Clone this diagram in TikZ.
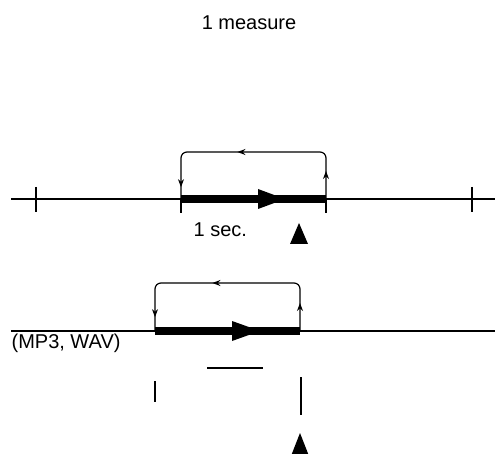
\documentclass[tikz,border=0pt]{standalone}
\usepackage{fontspec}
\setmainfont{Liberation Sans}
\usetikzlibrary{arrows.meta, decorations.markings}

\begin{document}
\begin{tikzpicture}[x=1pt,y=-1pt,line width=1.2pt,
    lbl/.style={inner sep=0pt,font=\fontsize{20}{24}\selectfont},
    bar/.style={line width=8pt},
    loopback/.style={rounded corners=6pt,postaction={decorate},
      decoration={markings,
        mark=at position 28pt with {\arrow{Stealth[length=8pt,width=6pt]}},
        mark=at position 133pt with {\arrow{Stealth[length=8pt,width=6pt]}},
        mark=at position 222pt with {\arrow{Stealth[length=8pt,width=6pt]}}}}]
  \useasboundingbox (0,0) rectangle (495,454);

  \node[lbl,anchor=base] (measure) at (249,30) {1 measure};

  % first track
  \coordinate (aw) at (11,199);
  \coordinate (ae) at (495,199);
  \coordinate (as) at (181,199);
  \coordinate (at) at (326,199);
  \draw (aw) -- (ae);
  \draw (36,187) -- (36,212) (472,187) -- (472,212);
  \draw[bar] (as) -- (at);
  \fill (258,189) -- (285,199) -- (258,209) -- cycle;
  \draw (as) -- ++(0,14) (at) -- ++(0,14);
  \draw[loopback] (at) -- (at |- 0,152) -- (as |- 0,152) -- (as);
  \node[lbl,anchor=base west] (sec) at (193,237) {1 sec.};
  \fill (299,223) -- (308,244) -- (290,244) -- cycle;

  % second track
  \coordinate (bw) at (11,331);
  \coordinate (be) at (495,331);
  \coordinate (bs) at (155,331);
  \coordinate (bt) at (300,331);
  \draw (bw) -- (be);
  \draw[bar] (bs) -- (bt);
  \fill (232,321) -- (260,331) -- (232,341) -- cycle;
  \draw[loopback] (bt) -- (bt |- 0,283) -- (bs |- 0,283) -- (bs);
  \node[lbl,anchor=base west] (fmt) at (11,348) {(MP3, WAV)};

  \draw (207,368) -- (263,368);
  \draw (155,381) -- (155,402);
  \draw (301,377) -- (301,415);
  \fill (300,433) -- (309,456) -- (291,456) -- cycle;
\end{tikzpicture}
\end{document}
